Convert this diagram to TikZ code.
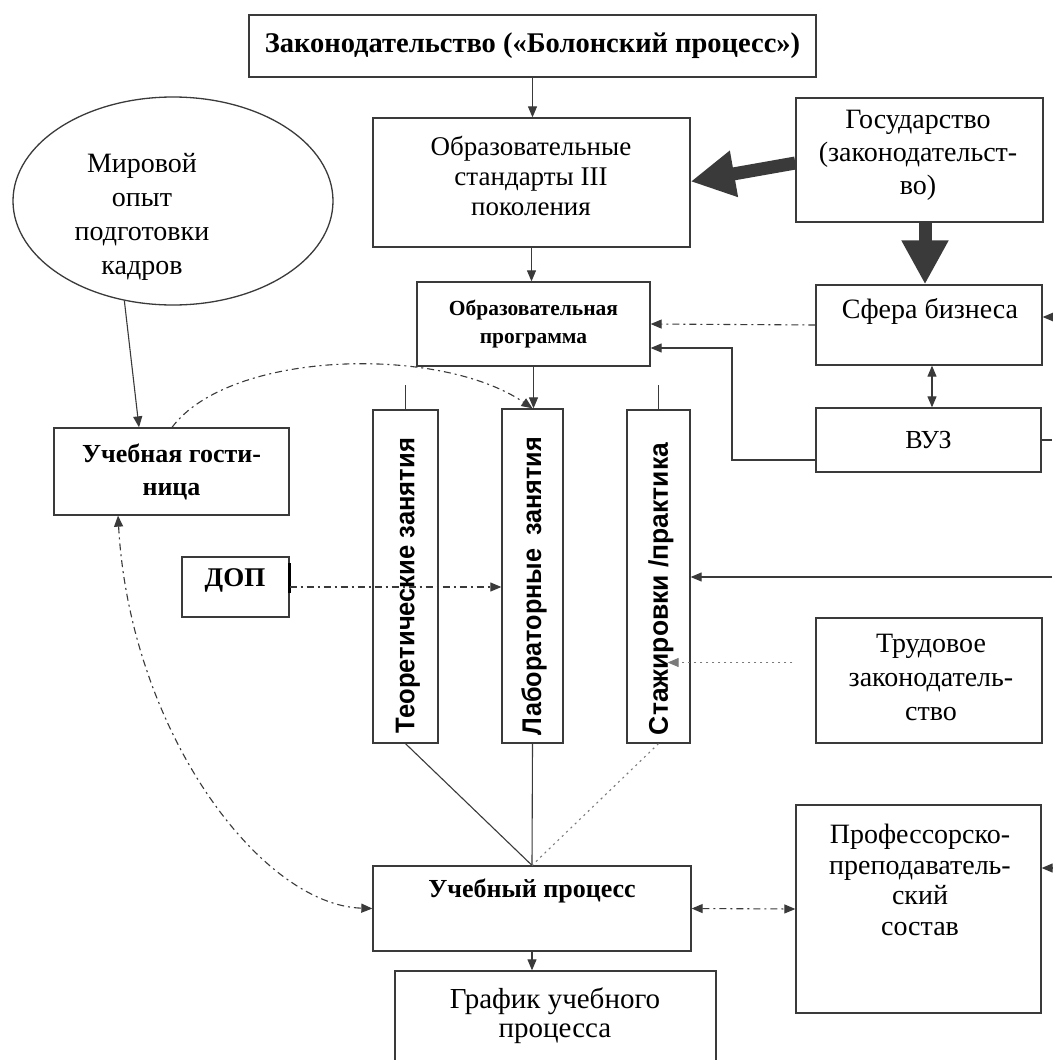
\documentclass[tikz,border=0pt]{standalone}
\usepackage{fontspec}
\setmainfont{Liberation Serif}
\setsansfont{Liberation Sans}
\usepackage{graphicx}
\usetikzlibrary{arrows.meta,shapes.geometric}
\definecolor{linec}{HTML}{3A3A3A}
\definecolor{dotc}{HTML}{7A7A7A}
\newcommand{\myfs}[2]{\fontsize{#1}{#2}\selectfont}
\tikzset{
  box/.style={draw=linec, line width=1.3pt, inner sep=0pt, align=center, font=\myfs{28}{33}},
  txt/.style={inner sep=0pt, align=center, font=\myfs{28}{33}},
  conn/.style={draw=linec, line width=1.1pt},
  tip/.style={-{Triangle[length=11pt,width=9pt]}},
  bitip/.style={{Triangle[length=11pt,width=9pt]}-{Triangle[length=11pt,width=9pt]}},
  dashdot/.style={dash pattern=on 7pt off 4pt on 2pt off 4pt},
  dotline/.style={draw=dotc, dash pattern=on 2pt off 4pt},
  bigarrow/.style={draw=linec, line width=13pt, -{Triangle[length=44pt,width=44pt]}},
  vlab/.style={inner sep=0pt, rotate=90, font=\sffamily\bfseries\myfs{27}{30}}
}
\begin{document}
\begin{tikzpicture}[x=1pt,y=-1pt]
\useasboundingbox[fill=white] (0,0) rectangle (1052,1060);

% boxes
\node[box, minimum width=567, minimum height=62, font=\bfseries\myfs{28.5}{32}] (law) at (532.5,46) {Законодательство («Болонский процесс»)};
\node[box, minimum width=317, minimum height=129] (std) at (531.5,182.5) {};
\node[txt, font=\myfs{27}{30}] (stdtxt) at (531,176) {Образовательные\\стандарты III\\поколения};
\node[box, minimum width=247, minimum height=124] (gov) at (919.5,160) {};
\node[txt] (govtxt) at (918,155) {Государство\\(законодательст-\\во)};
\node[box, minimum width=233, minimum height=84, font=\bfseries\myfs{21.5}{28}] (prog) at (533.5,324) {Образовательная\\программа};
\node[box, minimum width=226, minimum height=80] (biz) at (929,325) {};
\node[txt] (biztxt) at (930,311) {Сфера бизнеса};
\node[box, minimum width=225, minimum height=64, font=\myfs{26}{32}] (vuz) at (928.5,440) {ВУЗ};
\node[box, minimum width=235, minimum height=87, font=\bfseries\myfs{26}{33}] (hotel) at (171.5,471.5) {Учебная гости-\\ница};
\node[box, minimum width=107, minimum height=60] (dop) at (235.5,587) {};
\node[txt, font=\bfseries\myfs{27}{32}] (doptxt) at (235,580) {ДОП};
\node[box, minimum width=65, minimum height=333] (theo) at (405.5,576.5) {};
\node[box, minimum width=61, minimum height=334] (lab) at (532.5,576) {};
\node[box, minimum width=63, minimum height=333] (stage) at (658.5,576.5) {};
\node[vlab] (theotxt) at (408,585.5) {\resizebox{295pt}{\height}{Теоретические занятия}};
\node[vlab] (labtxt) at (534,586) {\resizebox{298pt}{\height}{Лабораторные\hspace{14pt}занятия}};
\node[vlab] (stagetxt) at (661,589) {\resizebox{292pt}{\height}{Стажировки /практика}};
\node[box, minimum width=226, minimum height=125] (labor) at (929,680.5) {};
\node[txt, font=\myfs{28}{34}] (labortxt) at (931,677) {Трудовое\\законодатель-\\ство};
\node[box, minimum width=318, minimum height=85] (proc) at (532,908.5) {};
\node[txt, font=\bfseries\myfs{26}{32}] (proctxt) at (532,891) {Учебный процесс};
\node[box, minimum width=245, minimum height=208] (prof) at (918.5,909) {};
\node[txt, font=\myfs{28}{30.5}] (proftxt) at (920,880) {Профессорско-\\преподаватель-\\ский\\состав};
\node[box, minimum width=321, minimum height=120] (sched) at (555.5,1031) {};
\node[txt, font=\myfs{29}{29}] (schedtxt) at (555,1016) {График учебного\\процесса};
\node[draw=linec, line width=1.3pt, ellipse, minimum width=320, minimum height=208, inner sep=0pt] (world) at (173,201) {};
\node[txt, font=\myfs{28}{34}] (worldtxt) at (142,217) {Мировой\\опыт\\подготовки\\кадров};

% right-edge coordinates
\coordinate (r1) at (1052,317);
\coordinate (r2) at (1052,440);
\coordinate (r3) at (1052,577);
\coordinate (r4) at (1052,868);
\coordinate (vbend) at (732,348);

% main vertical chain
\draw[conn,tip] (law.south) -- (law.south |- std.north);
\draw[conn,tip] (std.south) -- (std.south |- prog.north);
\draw[conn,tip] (prog.south) -- (prog.south |- lab.north);
\draw[conn] (theo.north) -- ++(0,-24);
\draw[conn] (stage.north) -- ++(0,-24);
\draw[conn] (theo.south) -- (proc.north);
\draw[conn] (lab.south) -- (proc.north);
\draw[conn,dotline] (stage.south) -- (proc.north);
\draw[conn,tip] (proc.south) -- (proc.south |- sched.north);

% government arrows
\draw[bigarrow] ([yshift=-3pt]gov.west) -- ([yshift=1pt]std.east);
\draw[bigarrow] ([xshift=5.5pt]gov.south) -- ([xshift=-4pt]biz.north);

% business / university
\draw[conn,dashdot,tip] (biz.west) -- (prog.east);
\draw[conn,tip] ([yshift=-20pt]vuz.west) -| (vbend) -- (vbend -| prog.east);
\draw[conn,bitip] ([xshift=3pt]biz.south) -- ([xshift=3.5pt]vuz.north);

% right edge
\draw[conn,tip] (r1) -- (r1 -| biz.east);
\draw[conn] (vuz.east) -- (r2);
\draw[conn,tip] (r3) -- (r3 -| stage.east);
\draw[conn,tip] (r4) -- (r4 -| prof.east);

% labour law
\draw[conn,dotline,tip] ([xshift=-23pt,yshift=18pt]labor.west) -- ([xshift=-23pt,yshift=18pt]labor.west -| stage.east);

% DOP
\draw[draw=black, line width=3pt] ([yshift=24pt]dop.east) -- ([yshift=-6pt]dop.east);
\draw[conn,dashdot,tip] (dop.east) -- (dop.east -| lab.west);

% world experience
\draw[conn,tip] (world.244) -- ([xshift=-32.5pt]hotel.north);
\draw[conn,dashdot,tip] ([xshift=0.5pt]hotel.north) .. controls (230,350) and (440,345) .. (lab.north);
\draw[conn,dashdot,bitip] ([xshift=-53.5pt]hotel.south) .. controls (130,730) and (260,905) .. (proc.west);

% process <-> staff
\draw[conn,dashdot,bitip] (proc.east) -- (prof.west);
\end{tikzpicture}
\end{document}
